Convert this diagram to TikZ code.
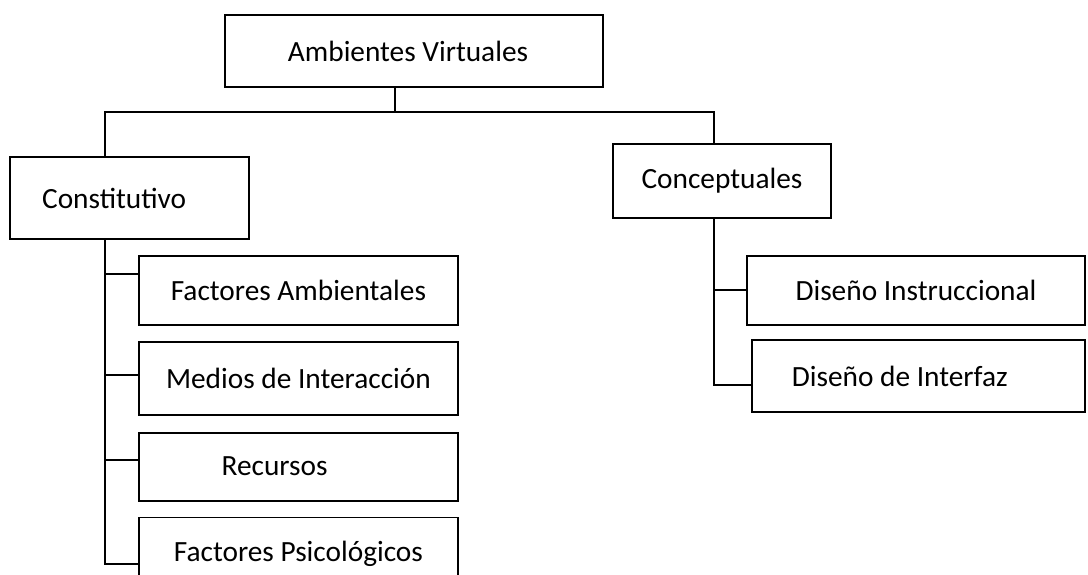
\documentclass[tikz,border=0pt]{standalone}
\usepackage{fontspec}
\setmainfont{Carlito}
\usetikzlibrary{positioning}

\tikzset{
  box/.style={draw, line width=0.7pt, inner sep=0pt, font=\fontsize{11}{13}\selectfont},
  lbox/.style={box, align=flush left, inner xsep=#1},
  wire/.style={line width=0.7pt},
}

\begin{document}
\begin{tikzpicture}[x=1pt,y=1pt]
    \useasboundingbox (0,0) rectangle (408,-215.25);

    \node [lbox=23.6pt,text width=94.55pt,minimum height=27pt] (AV) at (155.25,-19.1) {Ambientes Virtuales} ;
    \node [lbox=12pt,text width=65.6pt,minimum height=30.75pt] (CO) at (48.6,-74.25) {Constitutivo} ;
    \node [box,minimum width=81.75pt,minimum height=27.75pt] (CC) at (270.75,-67.9) {Conceptuales} ;

    \node [box,minimum width=119.6pt,minimum height=25.9pt] (FA) at (111.9,-108.9) {Factores Ambientales} ;
    \node [box,minimum width=119.6pt,minimum height=27.4pt,below=5.6pt of FA] (MI) {Medios de Interacción} ;
    \node [lbox=31pt,text width=57.6pt,minimum height=25.5pt,below=6pt of MI] (RE) {Recursos} ;
    \node [box,minimum width=119.6pt,minimum height=27pt,below=5.6pt of RE] (FP) {Factores Psicológicos} ;

    \node [box,minimum width=126.75pt,minimum height=25.9pt] (DI) at (343.5,-108.9) {Diseño Instruccional} ;
    \node [lbox=15pt,text width=94.9pt,minimum height=27pt] (DF) at (344.4,-141) {Diseño de Interfaz} ;

    \coordinate (bus) at (148.1,-42);
    \draw [wire] ([xshift=-7.15pt]AV.south) -- (bus);
    \draw [wire] (bus) -| ([xshift=-9.2pt]CO.north);
    \draw [wire] (bus) -| ([xshift=-3pt]CC.north);

    \draw [wire] ([xshift=-9.2pt]CO.south) |- ([yshift=6.15pt]FA.west);
    \draw [wire] ([xshift=-9.2pt]CO.south) |- ([yshift=1.25pt]MI.west);
    \draw [wire] ([xshift=-9.2pt]CO.south) |- ([yshift=2.6pt]RE.west);
    \draw [wire] ([xshift=-9.2pt]CO.south) |- ([yshift=-3.8pt]FP.west);

    \draw [wire] ([xshift=-3pt]CC.south) |- (DI.west);
    \draw [wire] ([xshift=-3pt]CC.south) |- ([yshift=-3.4pt]DF.west);
\end{tikzpicture}
\end{document}
